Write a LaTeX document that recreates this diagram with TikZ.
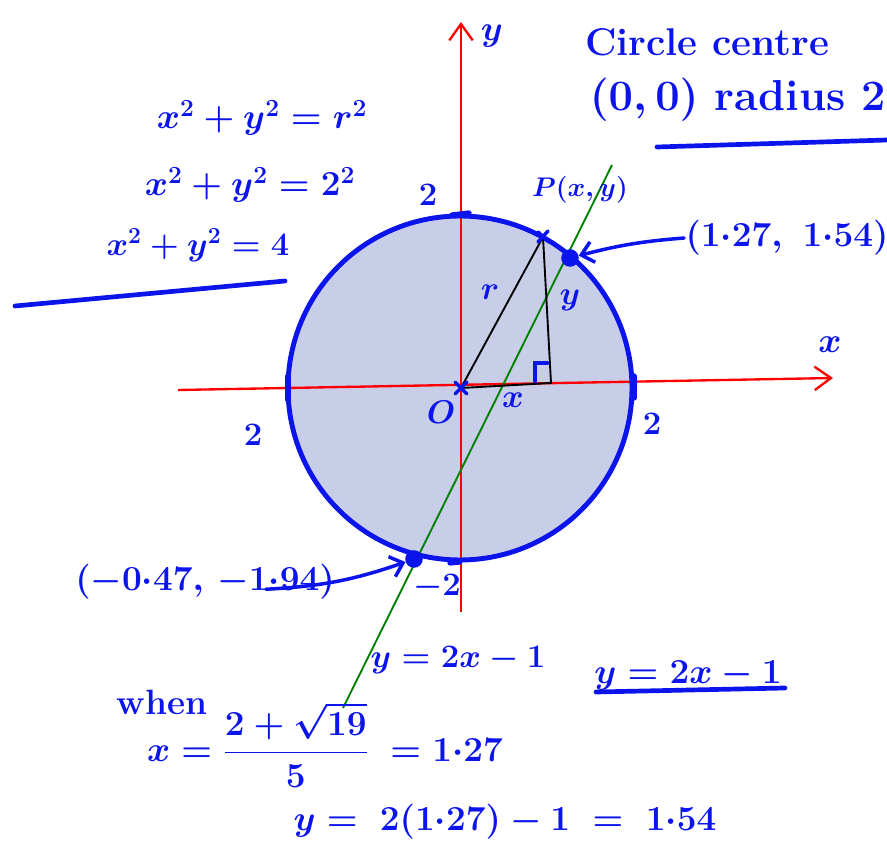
\RequirePackage{fix-cm}
\documentclass[tikz,border=0pt]{standalone}
\usepackage{amsmath}
\usepackage{amssymb}
\usepackage{tikz}
\usetikzlibrary{arrows.meta}
\usepackage{xcolor}
\definecolor{penblue}{RGB}{10,20,235}
\definecolor{discfill}{RGB}{200,205,232}
\definecolor{chordgreen}{RGB}{0,128,0}

\begin{document}
\begin{tikzpicture}[
    x=0.03cm, y=-0.03cm,
    axis/.style={line width=2pt, red, -{Straight Barb[length=14pt,width=20pt]}},
    rim/.style={line width=4.2pt, draw=penblue},
    chord/.style={line width=1.6pt, chordgreen},
    side/.style={line width=1.6pt, black},
    pen/.style={line width=3pt, penblue, line cap=round},
    penarrow/.style={pen, -{Straight Barb[length=10pt,width=18pt]}},
    hw/.style={text=penblue, inner sep=1pt, font=\fontsize{30}{34}\selectfont\bfseries\boldmath},
    hwbig/.style={hw, font=\fontsize{33}{38}\selectfont\bfseries\boldmath},
    hwsmall/.style={hw, font=\fontsize{28}{32}\selectfont\bfseries\boldmath},
    dot/.style={circle, fill=penblue, inner sep=0pt, minimum size=15pt},
]
\useasboundingbox (0,0) rectangle (887,850);
% disc and axes
\fill[discfill] (460,388) circle[radius=172];
\draw[axis] (178,390) -- (833,378);
\draw[axis] (461,612) -- (461,22);
\draw[rim] (460,388) circle[radius=172];
\draw[chord] (343,708) -- (612,165);
% ticks on the circle
\draw[pen, line width=4.5pt] (288,376) -- (288,400);
\draw[pen, line width=4.5pt] (634,376) -- (634,398);
\draw[pen, line width=4.5pt] (452,215) -- (469,213);
\draw[pen, line width=4.5pt] (450,563) -- (460,562);
% triangle OPF
\coordinate (O) at (461,388);
\coordinate (P) at (543,237);
\coordinate (F) at (551,383);
\draw[side] (O) -- (P) -- (F) -- cycle;
\draw[pen, line width=4pt] (535,381) -- (535,363) -- (547,363);
\draw[pen] (455,382) -- (467,394) (455,394) -- (467,382);
\draw[pen] (538,232) -- (549,242) (538,242) -- (548,231);
\node[dot] (ptA) at (570,258) {};
\node[dot] (ptB) at (414,559) {};
% labels on the figure
\node[hw] (axX) at (830,345) {$x$};
\node[hw] (axY) at (492,36) {$y$};
\node[hwsmall] (sTop) at (428,195) {$2$};
\node[hwsmall] (sRight) at (652,424) {$2$};
\node[hwsmall] (sLeft) at (253,435) {$2$};
\node[hwsmall] (sBottom) at (437,587) {$-2$};
\node[hwsmall] (lblO) at (441,412) {$O$};
\node[hwsmall] (lblx) at (513,400) {$x$};
\node[hwsmall] (lblr) at (490,292) {$r$};
\node[hwsmall] (lbly) at (570,300) {$y$};
\node[hw, font=\fontsize{23}{27}\selectfont\bfseries\boldmath] (lblP) at (580,190) {$P(x,y)$};
% points of intersection
\node[hw] (lblA) at (787,238) {$(1{\cdot}27,\ 1{\cdot}54)$};
\draw[penarrow] (lblA.west) to[bend right=5] (ptA);
\node[hw] (lblB) at (205,582) {$(-0{\cdot}47,\,-1{\cdot}94)$};
\draw[penarrow] ([xshift=-60pt,yshift=10pt]lblB.south east) to[bend right=8] (ptB);
% circle equation
\node[hwbig] (ttlA) at (707,42) {Circle centre};
\node[hwbig, font=\fontsize{37}{42}\selectfont\bfseries\boldmath] (ttlB) at (738,100) {$(0,0)$ radius 2};
\draw[pen, line width=4pt] (657,147) -- (887,140);
\node[hw] (eqA) at (262,118) {$x^2+y^2=r^2$};
\node[hw] (eqB) at (250,185) {$x^2+y^2=2^2$};
\node[hw, font=\fontsize{28}{32}\selectfont\bfseries\boldmath] (eqC) at (198,245) {$x^2+y^2=4$};
\draw[pen, line width=4pt] (15,306) -- (285,281);
% line and working
\node[hw, font=\fontsize{28}{32}\selectfont\bfseries\boldmath] (lineA) at (458,660) {$y=2x-1$};
\node[hw] (lineB) at (688,676) {$y=2x-1$};
\draw[pen, line width=4pt] (596,692) -- (785,688);
\node[hw] (wWhen) at (162,702) {when};
\node[hw] (wX) at (325,745) {$x=\dfrac{2+\sqrt{19}}{5}\;=1{\cdot}27$};
\node[hw] (wY) at (505,822) {$y=\;2(1{\cdot}27)-1\;=\;1{\cdot}54$};
\end{tikzpicture}
\end{document}
